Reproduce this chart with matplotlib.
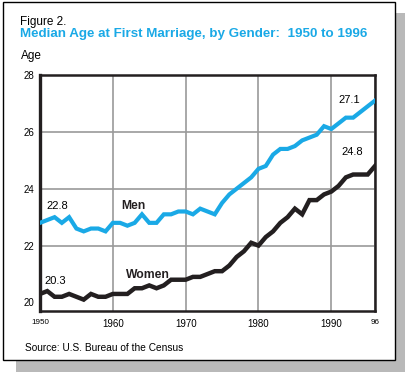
import numpy as np
import matplotlib.pyplot as plt
from matplotlib.patches import Rectangle

years = list(range(1950, 1997))
men = [22.8, 22.9, 23.0, 22.8, 23.0, 22.6, 22.5, 22.6, 22.6, 22.5,
       22.8, 22.8, 22.7, 22.8, 23.1, 22.8, 22.8, 23.1, 23.1, 23.2,
       23.2, 23.1, 23.3, 23.2, 23.1, 23.5, 23.8, 24.0, 24.2, 24.4,
       24.7, 24.8, 25.2, 25.4, 25.4, 25.5, 25.7, 25.8, 25.9, 26.2,
       26.1, 26.3, 26.5, 26.5, 26.7, 26.9, 27.1]
women = [20.3, 20.4, 20.2, 20.2, 20.3, 20.2, 20.1, 20.3, 20.2, 20.2,
         20.3, 20.3, 20.3, 20.5, 20.5, 20.6, 20.5, 20.6, 20.8, 20.8,
         20.8, 20.9, 20.9, 21.0, 21.1, 21.1, 21.3, 21.6, 21.8, 22.1,
         22.0, 22.3, 22.5, 22.8, 23.0, 23.3, 23.1, 23.6, 23.6, 23.8,
         23.9, 24.1, 24.4, 24.5, 24.5, 24.5, 24.8]
xticks = [1950, 1960, 1970, 1980, 1990, 1996]
xticklabels = ["1950", "1960", "1970", "1980", "1990", "96"]
yticks = [20, 22, 24, 26, 28]

blue = "#1aa9e6"
dark = "#231f20"
W, H = 407, 374

plt.rcParams["font.family"] = ["Liberation Sans", "DejaVu Sans"]
fig = plt.figure(figsize=(W / 100, H / 100), dpi=100)


def px(x, y):
    return x / W, 1 - y / H


# shadow and white frame
fig.patches.append(Rectangle((16 / W, 2 / H), 389 / W, 359 / H, transform=fig.transFigure,
                             facecolor="#b9b9b9", edgecolor="none", zorder=0))
fig.patches.append(Rectangle((3 / W, 14 / H), 392 / W, 358 / H, transform=fig.transFigure,
                             facecolor="white", edgecolor="black", linewidth=1, zorder=1))

ax = fig.add_axes([40 / W, (H - 311) / H, 335 / W, 236 / H])
ax.set_zorder(2)
ax.patch.set_alpha(0)

ax.plot(years, women, color=dark, linewidth=3.2, solid_joinstyle="miter", zorder=3)
ax.plot(years, men, color=blue, linewidth=3.0, solid_joinstyle="miter", zorder=3)

ax.set_xlim(1950, 1996)
ax.set_ylim(19.7, 28)
ax.set_xticks(xticks)
ax.set_xticklabels(xticklabels)
ax.set_yticks(yticks)
ax.tick_params(length=0, labelsize=7, colors="black", pad=6)
ax.tick_params(axis="y", pad=4)
labels = ax.get_xticklabels()
labels[0].set_fontsize(5.8)
labels[-1].set_fontsize(5.8)

ax.grid(True, color="#9a9a9a", linewidth=1.2, zorder=1)
ax.yaxis.get_gridlines()[0].set_visible(False)
for side, lw in [("left", 2.4), ("top", 1.8), ("right", 1.8), ("bottom", 1.8)]:
    ax.spines[side].set_linewidth(lw)
    ax.spines[side].set_color(dark)

ax.text(1952.4, 23.4, "22.8", fontsize=8, ha="center", va="center")
ax.text(1952.1, 20.76, "20.3", fontsize=8, ha="center", va="center")
ax.text(1992.4, 27.12, "27.1", fontsize=8, ha="center", va="center")
ax.text(1992.9, 25.28, "24.8", fontsize=8, ha="center", va="center")
ax.text(1962.8, 23.4, "Men", fontsize=8.7, fontweight="bold", ha="center", va="center", color=dark)
ax.text(1964.8, 20.97, "Women", fontsize=8.7, fontweight="bold", ha="center", va="center", color=dark)

fig.text(*px(20, 22), "Figure 2.", fontsize=8.5, va="center", ha="left")
fig.text(*px(20, 34), "Median Age at First Marriage, by Gender:  1950 to 1996",
         fontsize=9.6, fontweight="bold", color=blue, va="center", ha="left")
fig.text(*px(21, 56), "Age", fontsize=8.5, va="center", ha="left")
fig.text(*px(25, 348), "Source: U.S. Bureau of the Census", fontsize=7.3, va="center", ha="left")

fig.savefig("out.png", dpi=100)
